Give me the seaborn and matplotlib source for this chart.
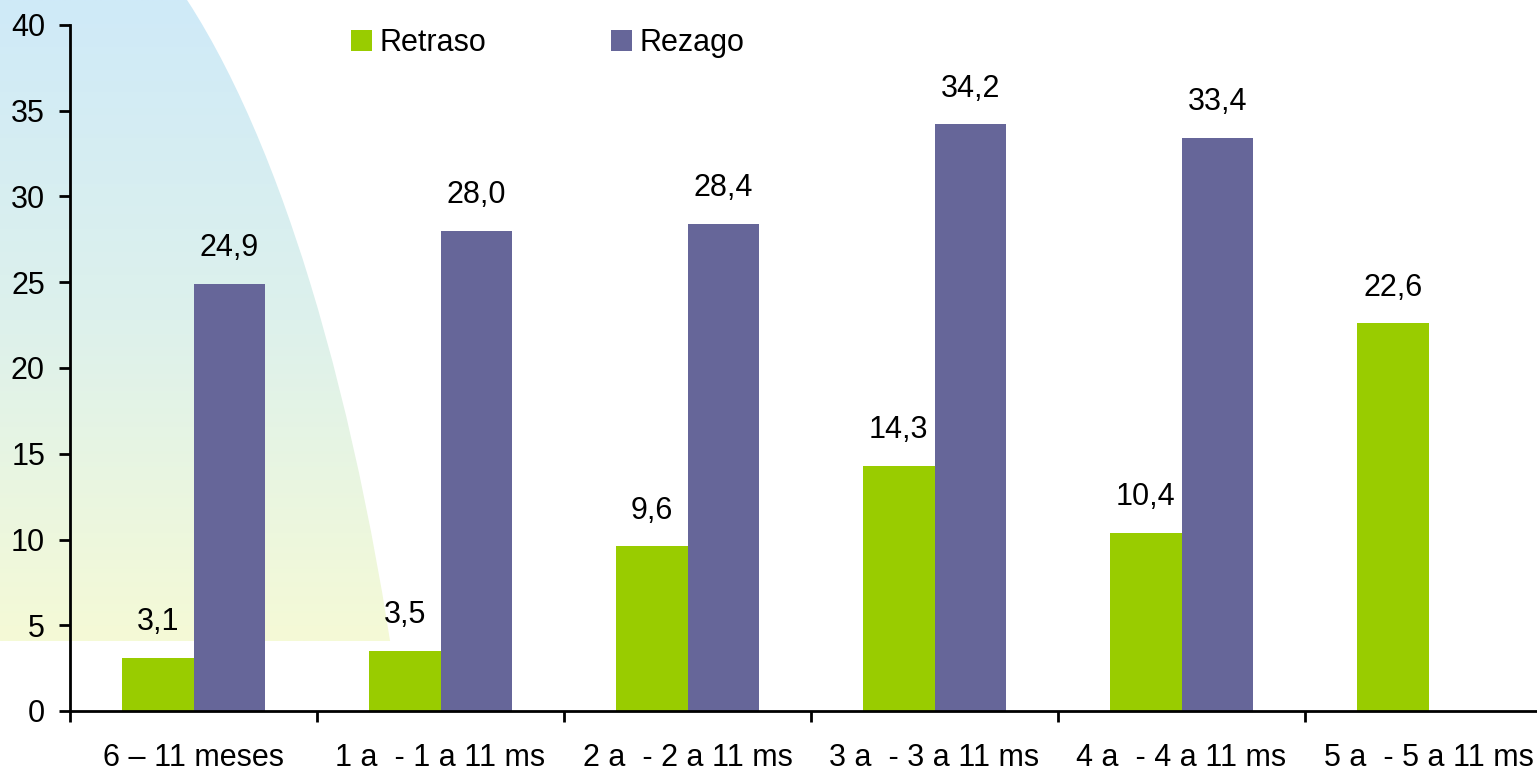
import numpy as np
import pandas as pd
import matplotlib
matplotlib.use("Agg")
import matplotlib.pyplot as plt
from matplotlib.patches import Ellipse
from matplotlib.colors import LinearSegmentedColormap
import seaborn as sns

# Age groups and prevalence (%) for each indicator
categories = ["6 – 11 meses", "1 a  - 1 a 11 ms", "2 a  - 2 a 11 ms",
              "3 a  - 3 a 11 ms", "4 a  - 4 a 11 ms", "5 a  - 5 a 11 ms"]
retraso = [3.1, 3.5, 9.6, 14.3, 10.4, 22.6]
rezago = [24.9, 28.0, 28.4, 34.2, 33.4, None]
series_names = ["Retraso", "Rezago"]
palette = {"Retraso": "#99CC00", "Rezago": "#666699"}
y_ticks = [0, 5, 10, 15, 20, 25, 30, 35, 40]

rows = []
for cat, a, b in zip(categories, retraso, rezago):
    if a is not None:
        rows.append({"grupo": cat, "serie": "Retraso", "valor": a})
    if b is not None:
        rows.append({"grupo": cat, "serie": "Rezago", "valor": b})
df = pd.DataFrame(rows)

sns.set_theme(style="white")
plt.rcParams["font.family"] = ["Liberation Sans", "DejaVu Sans"]
plt.rcParams["text.color"] = "black"
FS = 22

W, H = 1537, 770
fig = plt.figure(figsize=(W / 100, H / 100), dpi=100)

# Decorative gradient backdrop in the upper-left corner
bg = fig.add_axes([0, 0, 1, 1], zorder=0)
bg.set_xlim(0, W)
bg.set_ylim(H, 0)
bg.axis("off")
cmap = LinearSegmentedColormap.from_list(
    "sky", ["#CFEAF8", "#DDF1EC", "#F5FAD6"])
grad = np.linspace(0, 1, 256).reshape(-1, 1)
img = bg.imshow(grad, cmap=cmap, extent=[0, 460, 641, 0], aspect="auto",
                interpolation="bilinear")
ell = Ellipse((0, 1300), 2 * 439, 2 * 1437, transform=bg.transData)
img.set_clip_path(ell)

ax = fig.add_axes([70 / W, 59 / H, 1482 / W, 686 / H], zorder=1)
ax.patch.set_alpha(0)

sns.barplot(data=df, x="grupo", y="valor", hue="serie", order=categories,
            hue_order=series_names, palette=palette, width=0.58,
            saturation=1, ax=ax, errorbar=None, linewidth=0)

for cont in ax.containers:
    vals = [b.get_height() for b in cont]
    ax.bar_label(cont, labels=[f"{v:.1f}".replace(".", ",") for v in vals],
                 padding=15, fontsize=FS, color="black")

ax.set_xlim(-0.5, len(categories) - 0.5)
ax.set_ylim(0, 40)
ax.set_yticks(y_ticks)
ax.set_yticklabels([str(t) for t in y_ticks], fontsize=FS, color="black")
ax.set_xticks(range(len(categories)))
ax.set_xticklabels(categories, fontsize=FS, color="black")
ax.set_xticks(np.arange(-0.5, len(categories), 1), minor=True)
ax.tick_params(axis="x", which="major", bottom=True, length=0, pad=23)
ax.tick_params(axis="x", which="minor", bottom=True, length=8, width=2,
               color="black", direction="out")
ax.tick_params(axis="y", which="major", left=True, length=8, width=2,
               color="black", direction="out", pad=10)
ax.set_xlabel("")
ax.set_ylabel("")
for side in ["top", "right"]:
    ax.spines[side].set_visible(False)
for side in ["left", "bottom"]:
    ax.spines[side].set_color("black")
    ax.spines[side].set_linewidth(2)
ax.grid(False)

handles, labels = ax.get_legend_handles_labels()
leg = ax.legend(handles, labels, ncol=2, frameon=False, fontsize=FS,
                loc="upper left", bbox_to_anchor=(351 / W, 1 - 28 / H),
                bbox_transform=fig.transFigure,
                handlelength=0.68, handleheight=0.68, handletextpad=0.25,
                columnspacing=4.1, borderaxespad=0, borderpad=0)
for t in leg.get_texts():
    t.set_color("black")

fig.savefig("out.png", dpi=100)
